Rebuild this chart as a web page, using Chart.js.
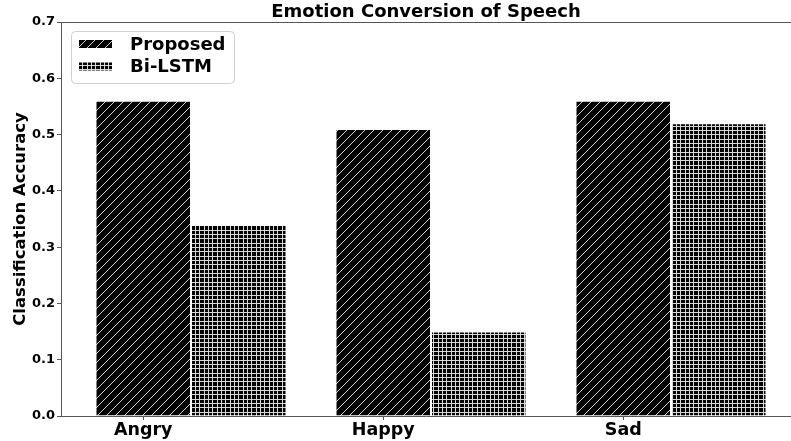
<!DOCTYPE html>
<html>
<head>
<meta charset="utf-8">
<script src="https://cdn.jsdelivr.net/npm/chart.js@4/dist/chart.umd.min.js"></script>
<style>
  html, body { margin: 0; padding: 0; background: #fff; }
  #wrap { width: 791px; height: 441px; position: relative; }
</style>
</head>
<body>
<div id="wrap"><canvas id="c" width="791" height="441"></canvas></div>
<script>
// ---- data ----
const categories = ['Angry', 'Happy', 'Sad'];
const seriesNames = ['Proposed', 'Bi-LSTM'];
const proposed = [0.56, 0.51, 0.56];
const biLSTM = [0.34, 0.15, 0.52];
const yTickLabels = ['0.0', '0.1', '0.2', '0.3', '0.4', '0.5', '0.6', '0.7'];
const titleText = 'Emotion Conversion of Speech';
const yTitle = 'Classification Accuracy';

// ---- hatch patterns ----
function diagPattern() {
  const s = 9;
  const c = document.createElement('canvas');
  c.width = s; c.height = s;
  const g = c.getContext('2d');
  g.fillStyle = '#000'; g.fillRect(0, 0, s, s);
  g.strokeStyle = '#d4d4d4'; g.lineWidth = 1;
  g.beginPath();
  g.moveTo(0, s); g.lineTo(s, 0);
  g.moveTo(-2, 2); g.lineTo(2, -2);
  g.moveTo(s - 2, s + 2); g.lineTo(s + 2, s - 2);
  g.stroke();
  return g.createPattern(c, 'repeat');
}
function gridPattern() {
  const s = 13;
  const c = document.createElement('canvas');
  c.width = s; c.height = s;
  const g = c.getContext('2d');
  g.fillStyle = '#000'; g.fillRect(0, 0, s, s);
  g.fillStyle = '#d8d8d8';
  [0, 4, 9].forEach(p => { g.fillRect(p, 0, 1, s); g.fillRect(0, p, s, 1); });
  return g.createPattern(c, 'repeat');
}
const hatchA = diagPattern();
const hatchB = gridPattern();

const toPts = arr => arr.map((v, i) => ({ x: i, y: v }));

// top spine + legend drawn inside plot
const extras = {
  id: 'extras',
  afterDraw(chart) {
    const ctx = chart.ctx, a = chart.chartArea;
    ctx.save();
    ctx.strokeStyle = '#555'; ctx.lineWidth = 1;
    ctx.beginPath();
    ctx.moveTo(a.left, Math.round(a.top) + 0.5);
    ctx.lineTo(a.right, Math.round(a.top) + 0.5);
    ctx.stroke();

    // legend box
    const bx = 71.5, by = 31.5, bw = 163, bh = 52, r = 4;
    ctx.fillStyle = 'rgba(255,255,255,0.85)';
    ctx.strokeStyle = '#d0d0d0';
    ctx.beginPath();
    ctx.moveTo(bx + r, by);
    ctx.lineTo(bx + bw - r, by); ctx.arcTo(bx + bw, by, bx + bw, by + r, r);
    ctx.lineTo(bx + bw, by + bh - r); ctx.arcTo(bx + bw, by + bh, bx + bw - r, by + bh, r);
    ctx.lineTo(bx + r, by + bh); ctx.arcTo(bx, by + bh, bx, by + bh - r, r);
    ctx.lineTo(bx, by + r); ctx.arcTo(bx, by, bx + r, by, r);
    ctx.closePath(); ctx.fill(); ctx.stroke();

    const rows = [44, 66.5];
    chart.data.datasets.forEach((ds, i) => {
      const cy = rows[i];
      ctx.fillStyle = ds.backgroundColor;
      ctx.fillRect(79, cy - 4, 33, 8);
      ctx.fillStyle = '#000';
      ctx.font = 'bold 18px "DejaVu Sans"';
      ctx.textBaseline = 'middle';
      ctx.textAlign = 'left';
      ctx.fillText(ds.label, 130, cy + 1);
    });
    ctx.restore();
  }
};

new Chart(document.getElementById('c'), {
  type: 'bar',
  data: {
    datasets: [
      { label: seriesNames[0], data: toPts(proposed), backgroundColor: hatchA, borderColor: '#ffffff', borderWidth: 1 },
      { label: seriesNames[1], data: toPts(biLSTM), backgroundColor: hatchB, borderColor: '#ffffff', borderWidth: 1 }
    ]
  },
  options: {
    responsive: false,
    animation: false,
    devicePixelRatio: 1,
    layout: { padding: 0 },
    categoryPercentage: 191 / 240,
    barPercentage: 1,
    plugins: {
      legend: { display: false },
      tooltip: { enabled: false },
      title: {
        display: true,
        text: titleText,
        fullSize: false,
        color: '#000',
        font: { family: 'DejaVu Sans', size: 18, weight: 'bold', lineHeight: 1 },
        padding: { top: 3.5, bottom: 0.5 }
      }
    },
    scales: {
      x: {
        type: 'linear',
        min: -0.5417,
        max: 2.5,
        offset: false,
        afterBuildTicks: s => { s.ticks = categories.map((c, i) => ({ value: i - 0.199 })); },
        afterFit: s => { s.height = 25; },
        ticks: {
          callback: (v, i) => categories[i],
          color: '#000',
          font: { family: 'DejaVu Sans', size: 17.5, weight: 'bold' },
          padding: 0,
          maxRotation: 0,
          autoSkip: false
        },
        grid: { offset: false, drawOnChartArea: false, drawTicks: true, tickLength: 4, color: '#555' },
        border: { color: '#555', width: 1 }
      },
      y: {
        min: 0,
        max: 0.7,
        afterBuildTicks: s => { s.ticks = yTickLabels.map(t => ({ value: parseFloat(t) })); },
        afterFit: s => { s.width = 61; },
        ticks: {
          callback: (v, i) => yTickLabels[i],
          color: '#000',
          font: { family: 'DejaVu Sans', size: 13, weight: 'bold' },
          padding: 2
        },
        grid: { drawOnChartArea: false, drawTicks: true, tickLength: 4, color: '#555' },
        border: { color: '#555', width: 1 },
        title: {
          display: true,
          text: yTitle,
          color: '#000',
          font: { family: 'DejaVu Sans', size: 16.5, weight: 'bold', lineHeight: 42 / 16.5 },
          padding: 0
        }
      }
    }
  },
  plugins: [extras]
});
</script>
</body>
</html>
